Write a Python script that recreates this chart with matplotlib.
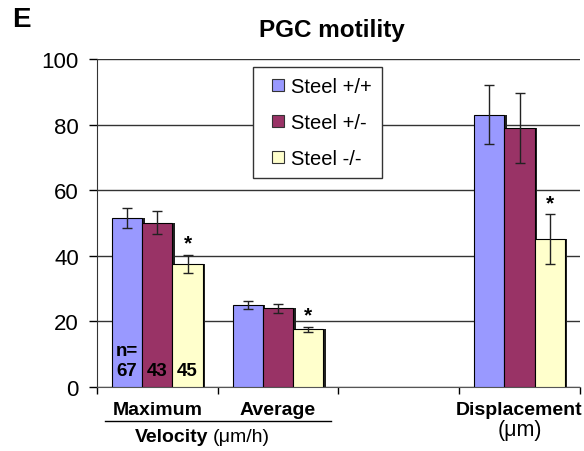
import numpy as np
import matplotlib

matplotlib.use("Agg")
import matplotlib.pyplot as plt  # noqa: E402
from matplotlib.lines import Line2D  # noqa: E402

plt.rcParams["font.family"] = ["Liberation Sans", "DejaVu Sans"]

# data
groups = ["Steel +/+", "Steel +/-", "Steel -/-"]
categories = ["Maximum", "Average", "", "Displacement"]
wt = [51.5, 25.0, np.nan, 83.0]
het = [50.0, 24.0, np.nan, 79.0]
mut = [37.5, 17.5, np.nan, 45.0]
wt_err = [3.0, 1.2, np.nan, 9.0]
het_err = [3.5, 1.4, np.nan, 10.8]
mut_err = [2.8, 0.9, np.nan, 7.6]
n_cells = ["67", "43", "45"]
colors = ["#9999FF", "#993366", "#FFFFCC"]

fig = plt.figure(figsize=(5.84, 4.52), dpi=100)
ax = fig.add_axes([0.166, 0.142, 0.827, 0.725])

x = np.arange(len(categories))
w = 0.25
series = [(wt, wt_err), (het, het_err), (mut, mut_err)]
for i, (vals, errs) in enumerate(series):
    pos = x + (i - 1) * w
    ax.bar(pos + 0.02, vals, w, color="#222222", zorder=2)  # drop shadow
    ax.bar(pos, vals, w, color=colors[i], edgecolor="black", lw=0.8,
           zorder=3)
    ax.errorbar(pos, vals, yerr=errs, fmt="none", ecolor="#222222",
                elinewidth=1, capsize=3.5, capthick=1, zorder=4)

# significance stars above the Steel -/- error bars
for j in [0, 1, 3]:
    ax.text(x[j] + w, mut[j] + mut_err[j] + 0.6, "*", ha="center",
            va="bottom", fontsize=15, fontweight="bold")

# cell counts inside the Maximum bars
ax.text(x[0] - w, 11.0, "n=", ha="center", va="center", fontsize=13.5,
        fontweight="bold")
for i, n in enumerate(n_cells):
    ax.text(x[0] + (i - 1) * w, 4.9, n, ha="center", va="center",
            fontsize=13.5, fontweight="bold")

ax.set_xlim(-0.5, 3.5)
ax.set_ylim(0, 100)
ax.set_yticks([0, 20, 40, 60, 80, 100])
ax.tick_params(axis="y", labelsize=16, length=6, width=1, pad=7)
ax.yaxis.grid(True, color="#333333", lw=1)
ax.set_axisbelow(True)
ax.set_xticks(np.arange(-0.5, 4.0, 1.0))
ax.set_xticklabels([])
ax.tick_params(axis="x", length=5, width=1, direction="out")
for s in ["top", "right"]:
    ax.spines[s].set_visible(False)
ax.spines["left"].set_color("#333333")
ax.spines["bottom"].set_color("#555555")

# category labels below the axis
for j in [0, 1, 3]:
    ax.text(x[j], -6.8, categories[j], ha="center", va="center",
            fontsize=14, fontweight="bold")
ax.text(x[3], -13.0, "(\u03bcm)", ha="center", va="center", fontsize=15.5)
ax.plot([-0.434, 1.44], [-10.4, -10.4], color="black", lw=1, clip_on=False)
ax.text(0.42, -15.3, "Velocity", ha="right", va="center", fontsize=14,
        fontweight="bold")
ax.text(0.46, -15.3, "(\u03bcm/h)", ha="left", va="center", fontsize=14)

handles = [Line2D([], [], marker="s", ls="none", markersize=9,
                  markerfacecolor=c, markeredgecolor="#333333",
                  markeredgewidth=0.8) for c in colors]
leg = ax.legend(handles, groups, loc="upper left",
                bbox_to_anchor=(0.323, 0.976), fontsize=14.5,
                frameon=True, fancybox=False, edgecolor="#333333",
                framealpha=1, handlelength=1.5, labelspacing=0.85,
                borderpad=0.5, handletextpad=-0.1, borderaxespad=0)
leg.get_frame().set_linewidth(1)

fig.text(0.568, 0.933, "PGC motility", ha="center", va="center",
         fontsize=17.5, fontweight="bold")
fig.text(0.02, 0.955, "E", ha="left", va="center", fontsize=20,
         fontweight="bold")

fig.savefig("out.png", dpi=100)
